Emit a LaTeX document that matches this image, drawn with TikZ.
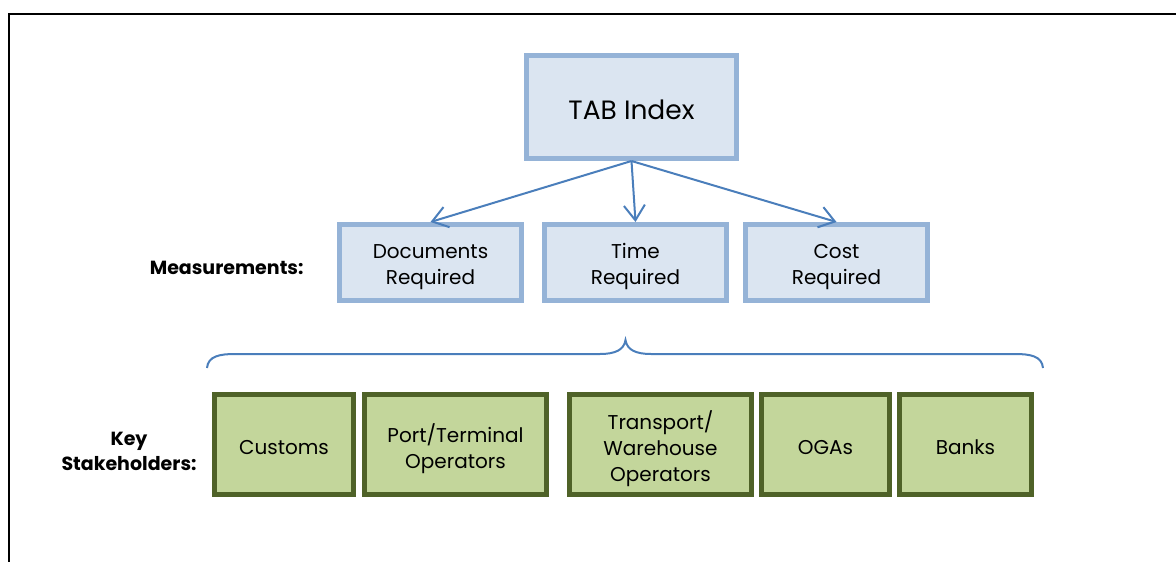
\documentclass[tikz,border=0pt]{standalone}
\usepackage{fontspec}
\setmainfont{Poppins}
\usetikzlibrary{arrows.meta}
\definecolor{measline}{HTML}{95B3D7}
\definecolor{measfill}{HTML}{DBE5F1}
\definecolor{holdline}{HTML}{4F6228}
\definecolor{holdfill}{HTML}{C3D69B}
\definecolor{linkblue}{HTML}{4A7EBB}
% centred stack of lines with strut spacing; the optional length is
% extra room added above, which sets the lines lower in the box
\newcommand\boxlines[2][10pt]{\raisebox{0pt}[\dimexpr\height+#1\relax][\depth]{\begin{tabular}{@{}c@{}}#2\end{tabular}}}
\tikzset{
  measbox/.style={draw=measline, fill=measfill, line width=5pt, inner sep=0pt,
    outer sep=2.5pt, minimum height=76pt, font=\fontsize{20}{26}\selectfont},
  topbox/.style={draw=measline, fill=measfill, line width=5pt, inner sep=0pt,
    outer sep=2.5pt, minimum width=210pt, minimum height=103pt,
    font=\fontsize{26.5}{30}\selectfont},
  holdbox/.style={draw=holdline, fill=holdfill, line width=5pt, inner sep=0pt,
    outer sep=2.5pt, minimum height=100pt, font=\fontsize{20}{26}\selectfont},
  rowlabel/.style={align=center, font=\bfseries\fontsize{19}{25}\selectfont},
  link/.style={draw=linkblue, line width=2pt, -{Straight Barb[length=15pt,width=21pt,line width=2pt]}},
  bracepath/.style={draw=linkblue, line width=2pt},
  frameline/.style={draw=black, line width=2.5pt}
}
\begin{document}
\begin{tikzpicture}[x=1pt,y=-1pt]
\useasboundingbox (0,0) rectangle (1176,562);
% outer frame, open at the right and bottom edges
\coordinate (fbl) at (9,575);
\coordinate (ftl) at (9,14);
\coordinate (ftr) at (1190,14);
\draw[frameline] (fbl) -- (ftl) -- (ftr);

% top level
\node[topbox] (tab) at (631.5,107) {\boxlines[12pt]{TAB Index}};

% measurements
\node[measbox, minimum width=182pt] (doc) at (430.5,262.5) {\boxlines[8pt]{Documents\\Required}};
\node[measbox, minimum width=182pt] (time) at (635.5,262.5) {\boxlines[8pt]{Time\\Required}};
\node[measbox, minimum width=182pt] (cost) at (836.5,262.5) {\boxlines[8pt]{Cost\\Required}};
\node[rowlabel, anchor=east] (measlbl) at (307,268) {Measurements:};

\draw[link] (tab.south) -- (doc.north);
\draw[link] (tab.south) -- (time.north);
\draw[link] (tab.south) -- (cost.north);

% curly brace grouping the stakeholders
\coordinate (bl) at (207,368);
\coordinate (bt) at (625.5,340);
\coordinate (br) at (1043,368);
\draw[bracepath] (bl) .. controls (208,356) and (220,354) .. (235,354)
  -- (600,354) .. controls (615,354) and (624,350) .. (bt)
  .. controls (627,350) and (636,354) .. (651,354)
  -- (1015,354) .. controls (1030,354) and (1042,356) .. (br);

% key stakeholders
\node[holdbox, minimum width=139pt] (cust) at (284,444.5) {\boxlines{Customs}};
\node[holdbox, minimum width=182pt] (port) at (455.5,444.5) {\boxlines{Port/Terminal\\Operators}};
\node[holdbox, minimum width=182pt] (trans) at (660.5,444.5) {\boxlines{Transport/\\Warehouse\\Operators}};
\node[holdbox, minimum width=128pt] (oga) at (825.5,444.5) {\boxlines{OGAs}};
\node[holdbox, minimum width=132pt] (bank) at (965.5,444.5) {\boxlines{Banks}};
\node[rowlabel] (keylbl) at (129,451) {Key\\Stakeholders:};
\end{tikzpicture}
\end{document}
